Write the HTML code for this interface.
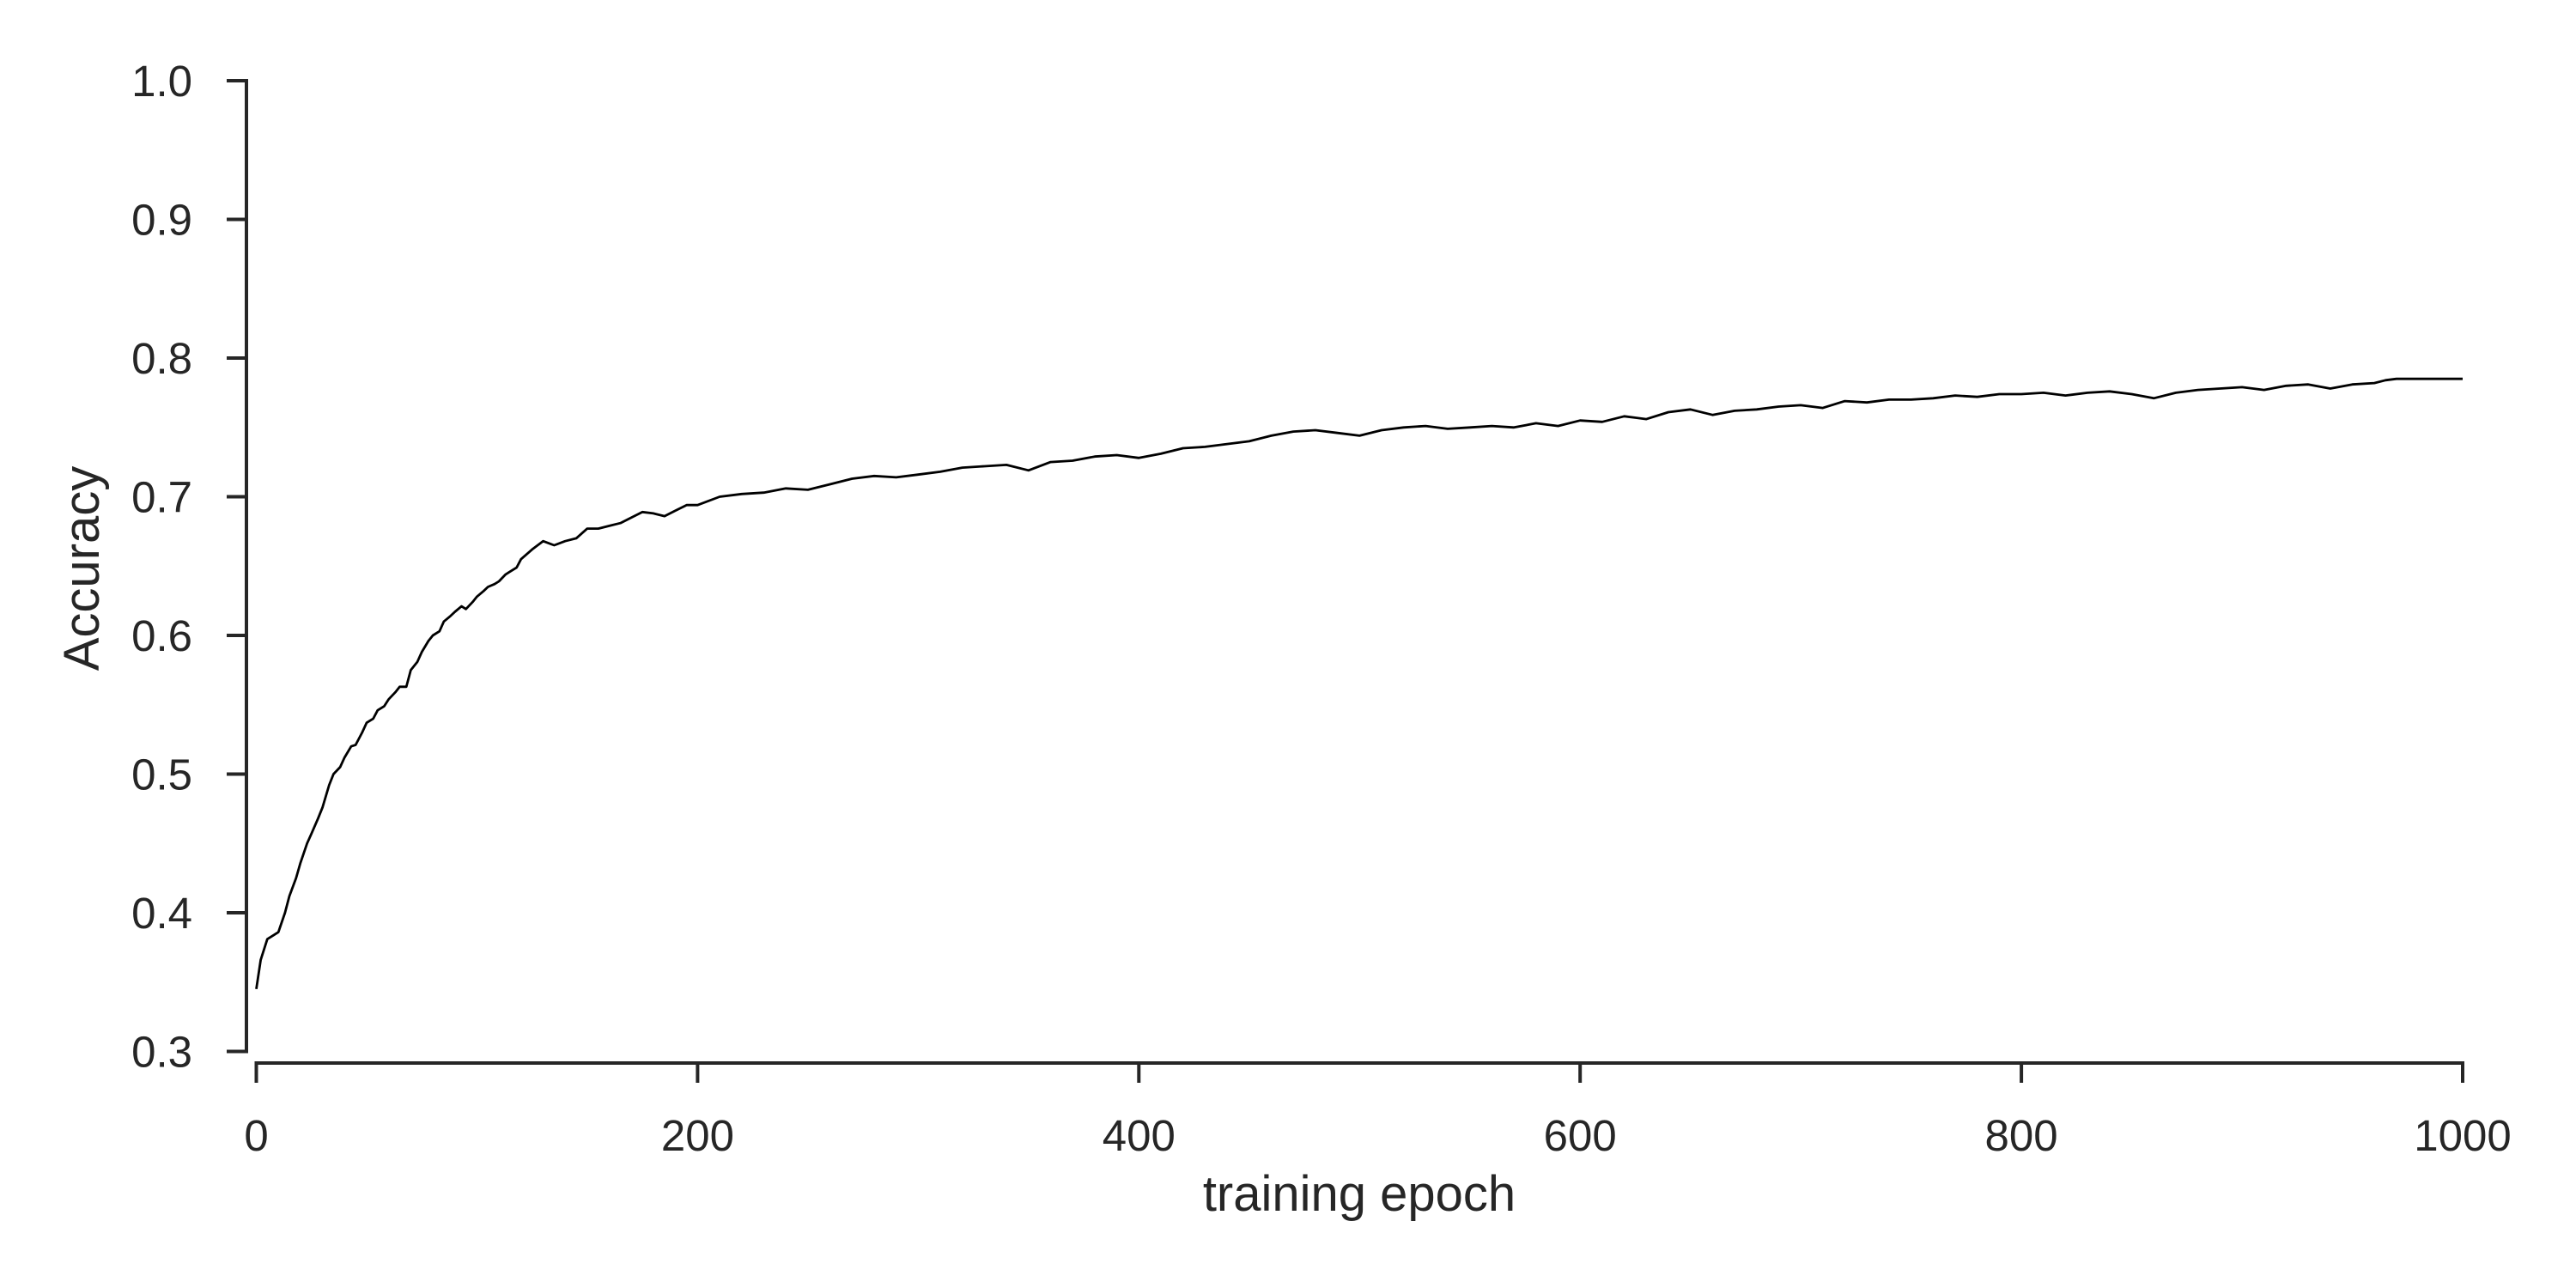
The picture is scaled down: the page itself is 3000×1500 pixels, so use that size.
<!DOCTYPE html>
<html><head><meta charset="utf-8"><style>
html,body{margin:0;padding:0;background:#fff;}
svg{display:block;}
text{font-family:"Liberation Sans",Arial,sans-serif;fill:#262626;}
</style></head><body>
<svg id="chart" width="3000" height="1500" viewBox="0 0 3000 1500" xmlns="http://www.w3.org/2000/svg">
<g id="axes"></g>
<path id="line" fill="none" stroke="#000" stroke-width="2.8" stroke-linejoin="round"></path>
<text x="1583" y="1410" font-size="58" text-anchor="middle">training epoch</text>
<text x="0" y="0" font-size="58" text-anchor="middle" transform="translate(115,662) rotate(-90)">Accuracy</text>
</svg>
<script>
const epochs = [0,2,5,8,10,13,15,18,20,23,25,28,30,33,35,38,40,43,45,48,50,53,55,58,60,63,65,68,70,73,75,78,80,83,85,88,90,93,95,98,100,103,105,108,110,113,115,118,120,125,130,135,140,145,150,155,160,165,170,175,180,185,190,195,200,210,220,230,240,250,260,270,280,290,300,310,320,330,340,350,360,370,380,390,400,410,420,430,440,450,460,470,480,490,500,510,520,530,540,550,560,570,580,590,600,610,620,630,640,650,660,670,680,690,700,710,720,730,740,750,760,770,780,790,800,810,820,830,840,850,860,870,880,890,900,910,920,930,940,950,960,965,970,1000];
const accuracy = [0.345,0.366,0.381,0.384,0.386,0.400,0.412,0.425,0.436,0.450,0.457,0.468,0.476,0.492,0.500,0.505,0.512,0.520,0.521,0.530,0.537,0.540,0.546,0.549,0.554,0.559,0.563,0.563,0.575,0.581,0.588,0.596,0.600,0.603,0.610,0.614,0.617,0.621,0.619,0.624,0.628,0.632,0.635,0.637,0.639,0.644,0.646,0.649,0.655,0.662,0.668,0.665,0.668,0.670,0.677,0.677,0.679,0.681,0.685,0.689,0.688,0.686,0.690,0.694,0.694,0.700,0.702,0.703,0.706,0.705,0.709,0.713,0.715,0.714,0.716,0.718,0.721,0.722,0.723,0.719,0.725,0.726,0.729,0.730,0.728,0.731,0.735,0.736,0.738,0.740,0.744,0.747,0.748,0.746,0.744,0.748,0.750,0.751,0.749,0.750,0.751,0.750,0.753,0.751,0.755,0.754,0.758,0.756,0.761,0.763,0.759,0.762,0.763,0.765,0.766,0.764,0.769,0.768,0.770,0.770,0.771,0.773,0.772,0.774,0.774,0.775,0.773,0.775,0.776,0.774,0.771,0.775,0.777,0.778,0.779,0.777,0.780,0.781,0.778,0.781,0.782,0.784,0.785,0.785];
const yTicks = ["0.3","0.4","0.5","0.6","0.7","0.8","0.9","1.0"];
const xTicks = ["0","200","400","600","800","1000"];

const X0=298.5, X1=2868, Y0=1224.5, Y1=94;
function xs(v){return X0+(v-0)/(1000-0)*(X1-X0);}
function ys(v){return Y0-(v-0.3)/(1.0-0.3)*(Y0-Y1);}
const NS="http://www.w3.org/2000/svg";
const axes=document.getElementById('axes');
function mk(tag,attrs){const e=document.createElementNS(NS,tag);for(const k in attrs)e.setAttribute(k,attrs[k]);return e;}

const ySpine=mk('line',{x1:287,x2:287,y1:ys(1.0)-2,y2:ys(0.3)+2,stroke:'#262626','stroke-width':4});


axes.appendChild(ySpine);
const xSpine=mk('line',{x1:xs(0)-2,x2:xs(1000)+2,y1:1238,y2:1238,stroke:'#262626','stroke-width':4});


axes.appendChild(xSpine);

yTicks.forEach(t=>{
  const y=ys(parseFloat(t));
  const tk=mk('line',{x1:264,x2:287,y1:y,y2:y,stroke:'#262626','stroke-width':4});
  
  
  axes.appendChild(tk);
  const tx=mk('text',{x:224,y:y+18,'font-size':51,'text-anchor':'end'});
  tx.textContent=t;
  
  
  axes.appendChild(tx);
});
xTicks.forEach(t=>{
  const x=xs(parseFloat(t));
  const tk=mk('line',{x1:x,x2:x,y1:1238,y2:1261,stroke:'#262626','stroke-width':4});
  
  
  axes.appendChild(tk);
  const tx=mk('text',{x:x,y:1340,'font-size':51,'text-anchor':'middle'});
  tx.textContent=t;
  
  
  axes.appendChild(tx);
});
let d='';
epochs.forEach((e,i)=>{d+=(i?'L':'M')+xs(e).toFixed(1)+' '+ys(accuracy[i]).toFixed(1);});
document.getElementById('line').setAttribute('d',d);
</script>
</body></html>
